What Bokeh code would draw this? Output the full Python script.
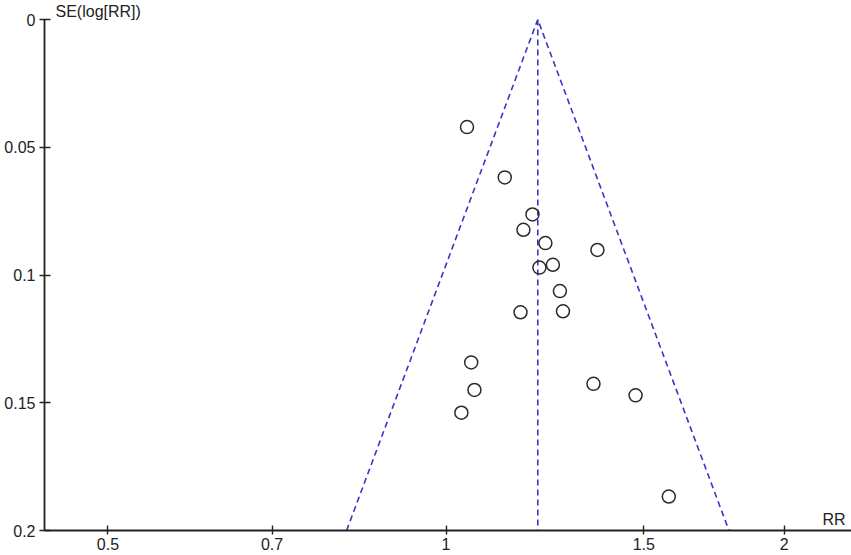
import numpy as np
from bokeh.plotting import figure
from bokeh.models import Range1d, FixedTicker, Label, CustomJSTickFormatter
from bokeh.embed import file_html
from bokeh.resources import INLINE

# Study estimates (risk ratio) and their standard errors of log(RR)
rr = [1.044, 1.128, 1.194, 1.172, 1.226, 1.364, 1.245, 1.211, 1.263,
      1.165, 1.271, 1.053, 1.060, 1.032, 1.353, 1.475, 1.579]
se = [0.0421, 0.0618, 0.0763, 0.0823, 0.0875, 0.0902, 0.0960, 0.0971, 0.1063,
      0.1146, 0.1142, 0.1342, 0.1450, 0.1539, 0.1426, 0.1471, 0.1867]
pooled_rr = 1.207
se_max = 0.2

x_ticks = [0.5, 0.7, 1, 1.5, 2]
x_tick_labels = ["0.5", "0.7", "1", "1.5", "2"]
y_ticks = [0, 0.05, 0.1, 0.15, 0.2]
y_tick_labels = ["0", "0.05", "0.1", "0.15", "0.2"]
y_title = "SE(log[RR])"
x_title = "RR"

FONT = "Liberation Sans"
FS = "16px"
TXT = "#222222"
BLUE = "#3636c8"

p = figure(width=851, height=555, x_axis_type="log",
           x_range=Range1d(0.439, 2.2965), y_range=Range1d(0.2, 0.0),
           output_backend="svg", toolbar_location=None,
           min_border_left=44, min_border_right=0, min_border_top=0,
           min_border_bottom=25)
p.outline_line_color = None
p.xgrid.visible = False
p.ygrid.visible = False
p.background_fill_color = "white"
p.border_fill_color = "white"

p.title.text = y_title
p.title.align = "left"
p.title.offset = 11
p.title.standoff = 0
p.title.text_font = FONT
p.title.text_font_size = FS
p.title.text_font_style = "normal"
p.title.text_color = TXT

fmt_code = """
let best = 0; let d = Infinity;
for (let i = 0; i < tv.length; i++) {
  const dd = Math.abs(tv[i] - tick);
  if (dd < d) { d = dd; best = i; }
}
return tl[best];
"""
p.xaxis.ticker = FixedTicker(ticks=x_ticks)
p.xaxis.formatter = CustomJSTickFormatter(args=dict(tv=x_ticks, tl=x_tick_labels), code=fmt_code)
p.yaxis.ticker = FixedTicker(ticks=y_ticks)
p.yaxis.formatter = CustomJSTickFormatter(args=dict(tv=y_ticks, tl=y_tick_labels), code=fmt_code)

for ax in (p.xaxis, p.yaxis):
    ax.axis_line_color = TXT
    ax.axis_line_width = 1.8
    ax.major_tick_line_color = TXT
    ax.major_tick_line_width = 1.4
    ax.minor_tick_line_color = None
    ax.major_label_text_font = FONT
    ax.major_label_text_font_size = FS
    ax.major_label_text_color = TXT
p.xaxis.major_tick_in = 5
p.xaxis.major_tick_out = 4
p.xaxis.major_label_standoff = 3
p.yaxis.major_tick_in = 6
p.yaxis.major_tick_out = 5
p.yaxis.major_label_standoff = 4

# funnel (95% pseudo-confidence limits) and pooled estimate
lo = float(np.exp(np.log(pooled_rr) - 1.96 * se_max))
hi = float(np.exp(np.log(pooled_rr) + 1.96 * se_max))
p.line([lo, pooled_rr, hi], [se_max, 0, se_max], line_color=BLUE,
       line_width=1.6, line_dash="6 4")
p.line([pooled_rr, pooled_rr], [0, se_max], line_color=BLUE,
       line_width=1.6, line_dash="6 4")

p.scatter(rr, se, marker="circle", size=13, fill_alpha=0,
          line_color="#2a2a2a", line_width=1.5)

p.add_layout(Label(x=2.164, y=se_max * 0.979, text=x_title,
                   text_baseline="alphabetic", text_font=FONT,
                   text_font_size=FS, text_color=TXT))

open("out.html", "w").write(file_html(p, INLINE))
